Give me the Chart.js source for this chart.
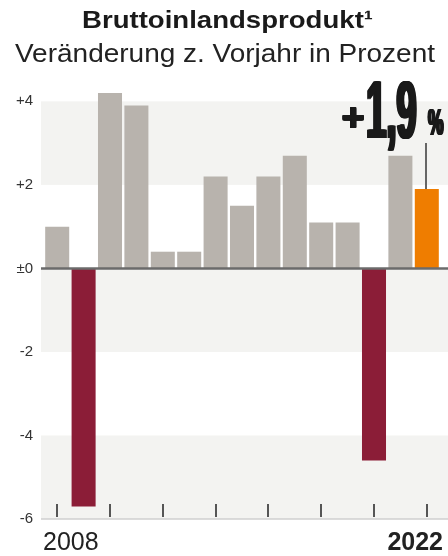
<!DOCTYPE html>
<html lang="de">
<head>
  <meta charset="UTF-8" />
  <title>Bruttoinlandsprodukt</title>
  <script src="https://cdn.jsdelivr.net/npm/chart.js"></script>
  <style>
    body { margin: 0; background: #fff; }
    canvas { display: block; }
  </style>
</head>
<body>
  <canvas id="bipChart" width="448" height="556"></canvas>

  <script>
    const jahre = ['2008','2009','2010','2011','2012','2013','2014','2015','2016','2017','2018','2019','2020','2021','2022'];
    const werte = [1.0, -5.7, 4.2, 3.9, 0.4, 0.4, 2.2, 1.5, 2.2, 2.7, 1.1, 1.1, -4.6, 2.7, 1.9];
    const yTicks = [-6, -4, -2, 0, 2, 4];
    const titel = 'Bruttoinlandsprodukt¹';
    const untertitel = 'Veränderung z. Vorjahr in Prozent';

    const farbe = werte.map((v, i) => i === werte.length - 1 ? '#ef7d00' : (v < 0 ? '#8b1d37' : '#b8b3ad'));
    const FONT = '"Liberation Sans", Arial, sans-serif';

    // Text horizontal auf eine Breite bringen
    function textFit(ctx, text, x, y, font, breite, align) {
      ctx.save();
      ctx.font = font;
      const w = ctx.measureText(text).width;
      ctx.translate(x, y);
      ctx.scale(breite / w, 1);
      ctx.textAlign = align;
      ctx.fillText(text, 0, 0);
      ctx.restore();
    }

    // schmal + fett: mehrfach versetzt zeichnen
    function textFett(ctx, text, x, y, font, sx, dxMax, dyMax) {
      ctx.save();
      ctx.font = font;
      ctx.textAlign = 'left';
      for (let dx = 0; dx <= dxMax; dx += 0.5) {
        for (let dy = 0; dy <= dyMax; dy += 0.5) {
          ctx.save();
          ctx.translate(x + dx, y - dy);
          ctx.scale(sx, 1);
          ctx.fillText(text, 0, 0);
          ctx.restore();
        }
      }
      ctx.restore();
    }

    // Hintergrundstreifen, Nulllinie, Beschriftungen
    const deko = {
      id: 'deko',
      beforeDatasetsDraw(chart) {
        const { ctx, chartArea: a, scales: { y } } = chart;
        ctx.save();
        ctx.fillStyle = '#f3f3f1';
        [[4, 2], [0, -2], [-4, -6]].forEach(([o, u]) => {
          const t = y.getPixelForValue(o), b = y.getPixelForValue(u);
          ctx.fillRect(a.left - 3, t, a.right - a.left + 11, b - t);
        });
        ctx.restore();
      },
      afterDatasetsDraw(chart) {
        const { ctx, chartArea: a, scales: { x, y } } = chart;
        const l = a.left - 3, r = a.right + 8;
        ctx.save();
        // Nulllinie
        ctx.strokeStyle = '#6b6b6b';
        ctx.lineWidth = 2.5;
        ctx.beginPath();
        ctx.moveTo(l, y.getPixelForValue(0));
        ctx.lineTo(r, y.getPixelForValue(0));
        ctx.stroke();
        // Grundlinie unten
        const yb = y.getPixelForValue(-6);
        ctx.strokeStyle = '#cfcfcf';
        ctx.lineWidth = 1.5;
        ctx.beginPath();
        ctx.moveTo(l, yb);
        ctx.lineTo(r, yb);
        ctx.stroke();
        // kleine Striche jedes zweite Jahr
        ctx.strokeStyle = '#555';
        ctx.lineWidth = 2;
        jahre.forEach((j, i) => {
          if (i % 2) return;
          const px = Math.round(x.getPixelForValue(i));
          ctx.beginPath();
          ctx.moveTo(px, yb - 15);
          ctx.lineTo(px, yb - 2);
          ctx.stroke();
        });
        // Jahreszahlen
        ctx.fillStyle = '#222';
        ctx.textBaseline = 'alphabetic';
        ctx.font = '25px ' + FONT;
        ctx.textAlign = 'left';
        ctx.fillText(jahre[0], 43, 550);
        ctx.font = 'bold 25px ' + FONT;
        ctx.textAlign = 'right';
        ctx.fillText(jahre[jahre.length - 1], 443, 550);

        // Titel
        ctx.fillStyle = '#1a1a1a';
        textFit(ctx, titel, 82, 28, 'bold 24px ' + FONT, 291, 'left');
        ctx.fillStyle = '#222';
        textFit(ctx, untertitel, 15, 62, '25.5px ' + FONT, 420, 'left');

        // Hervorhebung letzter Wert
        const last = werte.length - 1;
        const lx = Math.round(x.getPixelForValue(last)) - 1;
        const ly = y.getPixelForValue(werte[last]);
        ctx.strokeStyle = '#666';
        ctx.lineWidth = 2;
        ctx.beginPath();
        ctx.moveTo(lx, ly);
        ctx.lineTo(lx, 143);
        ctx.stroke();

        const wertText = werte[last].toFixed(1).replace('.', ',');
        ctx.fillStyle = '#1a1a1a';
        // Zahl: rechte Kante 418
        ctx.font = 'bold 82px ' + FONT;
        const sx = 0.44, k = 3;
        const wz = ctx.measureText(wertText).width * sx;
        textFett(ctx, wertText, 418 - k - wz, 138, 'bold 82px ' + FONT, sx, k, 0);
        // Plus
        textFett(ctx, '+', 341, 131, 'bold 38px ' + FONT, 1, 2, 1.5);
        // Prozent
        textFett(ctx, '%', 427, 135, 'bold 37px ' + FONT, 0.47, 2, 0);
        ctx.restore();
      }
    };

    const bipChart = new Chart(document.getElementById('bipChart').getContext('2d'), {
      type: 'bar',
      data: {
        labels: jahre,
        datasets: [{ data: werte, backgroundColor: farbe, borderWidth: 0, barPercentage: 0.91, categoryPercentage: 1 }]
      },
      options: {
        responsive: false,
        animation: false,
        layout: { padding: { top: 93, bottom: 37, right: 8, left: 0 } },
        plugins: { legend: { display: false }, tooltip: { enabled: false } },
        scales: {
          x: { display: false, offset: true },
          y: {
            min: -6,
            max: 4.2,
            afterBuildTicks: s => { s.ticks = yTicks.map(v => ({ value: v })); },
            afterFit: s => { s.width = 44; },
            grid: { display: false, drawTicks: false },
            border: { display: false },
            ticks: {
              padding: 11,
              color: '#333',
              font: { family: FONT, size: 15 },
              callback: v => v > 0 ? '+' + v : (v === 0 ? '±0' : String(v))
            }
          }
        }
      },
      plugins: [deko]
    });
  </script>
</body>
</html>
